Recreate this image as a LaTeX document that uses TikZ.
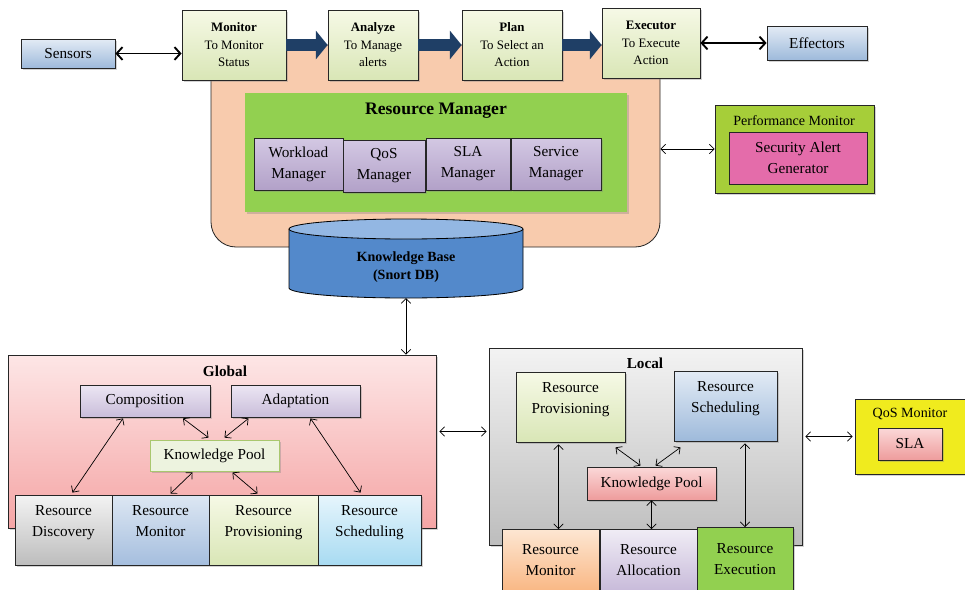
\documentclass[tikz,border=0pt]{standalone}
\usepackage{fontspec}
\setmainfont{Liberation Serif}
\usetikzlibrary{arrows.meta,calc,shadows}
\definecolor{navy}{HTML}{1F3F66}
\definecolor{peach}{HTML}{F8CBAD}
\definecolor{rmgreen}{HTML}{92D050}
\definecolor{mapetop}{HTML}{F6F9E6}
\definecolor{mapebot}{HTML}{D9E6B6}
\definecolor{sensetop}{HTML}{E3EBF5}
\definecolor{sensebot}{HTML}{9EBADB}
\definecolor{lavtop}{HTML}{D3C8E3}
\definecolor{lavbot}{HTML}{B2A1C8}
\definecolor{kbbody}{HTML}{5389CB}
\definecolor{kbtop}{HTML}{93B7E3}
\definecolor{pmgreen}{HTML}{A6CE39}
\definecolor{alertpink}{HTML}{E46CAA}
\definecolor{globtop}{HTML}{FDE6E6}
\definecolor{globbot}{HTML}{F5A5A5}
\definecolor{comptop}{HTML}{ECE6F3}
\definecolor{compbot}{HTML}{C9BDDA}
\definecolor{kpgfill}{HTML}{EDF3DF}
\definecolor{kpgline}{HTML}{A9C76E}
\definecolor{graytop}{HTML}{F3F3F3}
\definecolor{graybot}{HTML}{BDBDBD}
\definecolor{bluetop}{HTML}{DDE7F3}
\definecolor{bluebot}{HTML}{A5BEDE}
\definecolor{cyantop}{HTML}{E6F5FC}
\definecolor{cyanbot}{HTML}{A8DBF2}
\definecolor{pinktop}{HTML}{FBD8D8}
\definecolor{pinkbot}{HTML}{EE9C9C}
\definecolor{orangetop}{HTML}{FDE6D2}
\definecolor{orangebot}{HTML}{F9B885}
\definecolor{alloctop}{HTML}{F0ECF5}
\definecolor{allocbot}{HTML}{C8BBDA}
\definecolor{qosyellow}{HTML}{F0EB1E}

\begin{document}
\begin{tikzpicture}[x=0.03cm,y=-0.03cm,
  wh/.style 2 args={minimum width=#1*0.03cm,minimum height=#2*0.03cm},
  box/.style={draw=black!85,line width=0.7pt,inner sep=0pt,align=center,font=\fontsize{13}{18}\selectfont},
  lift/.style={text depth=15pt},
  shade/.style={drop shadow={shadow xshift=1.5pt,shadow yshift=-1.5pt,opacity=.35}},
  mape/.style={box,shade,top color=mapetop,bottom color=mapebot,font=\fontsize{11}{15}\selectfont},
  grad/.style 2 args={box,shade,top color=#1,bottom color=#2},
  title/.style={font=\fontsize{13}{16}\selectfont\bfseries,inner sep=1pt},
  smalltitle/.style={font=\fontsize{12}{15}\selectfont,inner sep=1pt},
  arr/.style={{Straight Barb[length=4pt,width=8pt]}-{Straight Barb[length=4pt,width=8pt]},line width=0.6pt},
  bigarr/.style={{Straight Barb[length=5pt,width=11pt]}-{Straight Barb[length=5pt,width=11pt]},line width=1.6pt},
  flow/.style={-{Triangle[length=10pt,width=24pt]},line width=11pt,draw=navy}]
\useasboundingbox (0,0) rectangle (965,589);

% autonomic loop
\node[wh={449}{202},inner sep=0pt,draw=black!85,line width=0.7pt,fill=peach,rounded corners=0.75cm] (loop) at (435.5,146) {};
\node[wh={382}{119},inner sep=0pt,fill=rmgreen,shade] (rm) at (436,152.5) {};
\node[font=\fontsize{15}{18}\selectfont\bfseries] (rmtitle) at (436,111) {Resource Manager};
\node[grad={lavtop}{lavbot},wh={89}{52}] (wl) at (298.5,164) {Workload\\Manager};
\node[grad={lavtop}{lavbot},wh={82}{52}] (qos) at (384,166) {QoS\\Manager};
\node[grad={lavtop}{lavbot},wh={84}{52}] (sla) at (468,164) {SLA\\Manager};
\node[grad={lavtop}{lavbot},wh={90}{52}] (srv) at (556,164) {Service\\Manager};

% MAPE boxes
\node[mape,wh={104}{70}] (mon) at (234,45) {\textbf{Monitor}\\To Monitor\\Status};
\node[mape,wh={90}{70}] (ana) at (373,45) {\textbf{Analyze}\\To Manage\\alerts};
\node[mape,wh={100}{70}] (plan) at (512,45) {\textbf{Plan}\\To Select an\\Action};
\node[mape,wh={98}{70}] (exe) at (651,43) {\textbf{Executor}\\To Execute\\Action};
\node[grad={sensetop}{sensebot},wh={94}{29}] (sens) at (68,53.5) {Sensors};
\node[grad={sensetop}{sensebot},wh={100}{34}] (eff) at (817,43) {Effectors};
\draw[flow] (mon.east) -- (ana.west);
\draw[flow] (ana.east) -- (plan.west);
\draw[flow] (plan.east) -- (exe.west |- plan.east);
\draw[bigarr] (sens.east) -- (sens.east -| mon.west);
\draw[bigarr] (exe.east |- eff.west) -- (eff.west);

% knowledge base
\fill[kbbody] (289,229) -- (289,288) arc[start angle=180,end angle=360,x radius=3.51cm,y radius=0.3cm] -- (523,229) -- cycle;
\draw[line width=0.7pt] (289,229) -- (289,288) arc[start angle=180,end angle=360,x radius=3.51cm,y radius=0.3cm] -- (523,229);
\draw[line width=0.7pt,fill=kbtop] (406,229) ellipse[x radius=3.51cm,y radius=0.3cm];
\node[wh={234}{79},inner sep=0pt] (kb) at (406,258.5) {};
\node[font=\fontsize{12}{16}\selectfont\bfseries,align=center] (kbtext) at (406,267) {Knowledge Base\\(Snort DB)};

% performance monitor
\node[box,shade,fill=pmgreen,wh={159}{88}] (pm) at (794.5,149) {};
\node[smalltitle] (pmtitle) at (794,121) {Performance Monitor};
\node[box,fill=alertpink,wh={138}{52}] (alert) at (798,158) {Security Alert\\Generator};
\draw[arr] (pm.west -| loop.east) -- (pm.west);

% global
\node[grad={globtop}{globbot},wh={428}{173}] (glob) at (222,441.5) {};
\node[title] (globtitle) at (225,371) {Global};
\node[grad={comptop}{compbot},wh={130}{32}] (comp) at (145,401) {Composition};
\node[grad={comptop}{compbot},wh={129}{32}] (adapt) at (295.5,401) {Adaptation};
\node[box,shade,fill=kpgfill,draw=kpgline,wh={129}{31}] (kpg) at (214.5,455.5) {Knowledge Pool};
\node[grad={graytop}{graybot},lift,wh={97}{70}] (disc) at (63.5,530) {Resource\\Discovery};
\node[grad={bluetop}{bluebot},lift,wh={97}{70}] (gmon) at (160.5,530) {Resource\\Monitor};
\node[grad={mapetop}{mapebot},lift,wh={109}{70}] (gprov) at (263.5,530) {Resource\\Provisioning};
\node[grad={cyantop}{cyanbot},lift,wh={103}{70}] (gsch) at (369.5,530) {Resource\\Scheduling};
\draw[arr] ($(comp.south)+(-22,1)$) -- ($(disc.north)+(9,-2)$);
\draw[arr] ($(comp.south)+(38,1)$) -- ($(kpg.north)+(-6,-2)$);
\draw[arr] ($(adapt.south)+(-47,1)$) -- ($(kpg.north)+(10,-2)$);
\draw[arr] ($(adapt.south)+(15,1)$) -- ($(gsch.north)+(-9,-2)$);
\draw[arr] ($(kpg.south)+(-22,1)$) -- ($(gmon.north)+(10,-1)$);
\draw[arr] ($(kpg.south)+(18,1)$) -- ($(gprov.north)+(-6,-1)$);
\draw[arr] (kb.south) -- (kb.south |- glob.north);

% local
\node[grad={graytop}{graybot},wh={313}{197}] (loc) at (645.5,446.5) {};
\node[title] (loctitle) at (645,363) {Local};
\node[grad={mapetop}{mapebot},lift,wh={109}{70}] (lprov) at (570.5,407) {Resource\\Provisioning};
\node[grad={sensetop}{sensebot},lift,wh={103}{70}] (lsch) at (725.5,406) {Resource\\Scheduling};
\node[grad={pinktop}{pinkbot},wh={129}{33}] (lkp) at (651.5,483.5) {Knowledge Pool};
\node[grad={orangetop}{orangebot},wh={97}{61}] (lmon) at (550.5,560) {Resource\\Monitor};
\node[grad={alloctop}{allocbot},wh={97}{61}] (lalloc) at (648.5,560) {Resource\\Allocation};
\node[box,shade,fill=rmgreen,wh={96}{63}] (lexe) at (745,559) {Resource\\Execution};
\coordinate (lp) at ($(lprov.south)+(-12,2)$);
\draw[arr] (lp) -- (lp |- lmon.north);
\draw[arr] (lexe.north |- lsch.south) ++(0,2) -- (lexe.north);
\draw[arr] ($(lprov.south)+(45,5)$) -- ($(lkp.north)+(-11,-1)$);
\draw[arr] ($(lsch.south)+(-45,6)$) -- ($(lkp.north)+(4,-1)$);
\draw[arr] (lkp.south) -- (lkp.south |- lalloc.north);

% global <-> local
\coordinate (gl) at ($(glob.east)+(3,-10)$);
\draw[arr] (gl) -- ($(gl -| loc.west)+(-2,0)$);

% QoS monitor
\node[box,shade,fill=qosyellow,wh={110}{75}] (qosm) at (910,436.5) {};
\node[smalltitle] (qostitle) at (910,414) {QoS Monitor};
\node[grad={pinktop}{pinkbot},wh={64}{32}] (slabox) at (910,444) {SLA};
\draw[arr] ($(qosm.west -| loc.east)+(3,0)$) -- ($(qosm.west)+(-2,0)$);
\end{tikzpicture}
\end{document}
